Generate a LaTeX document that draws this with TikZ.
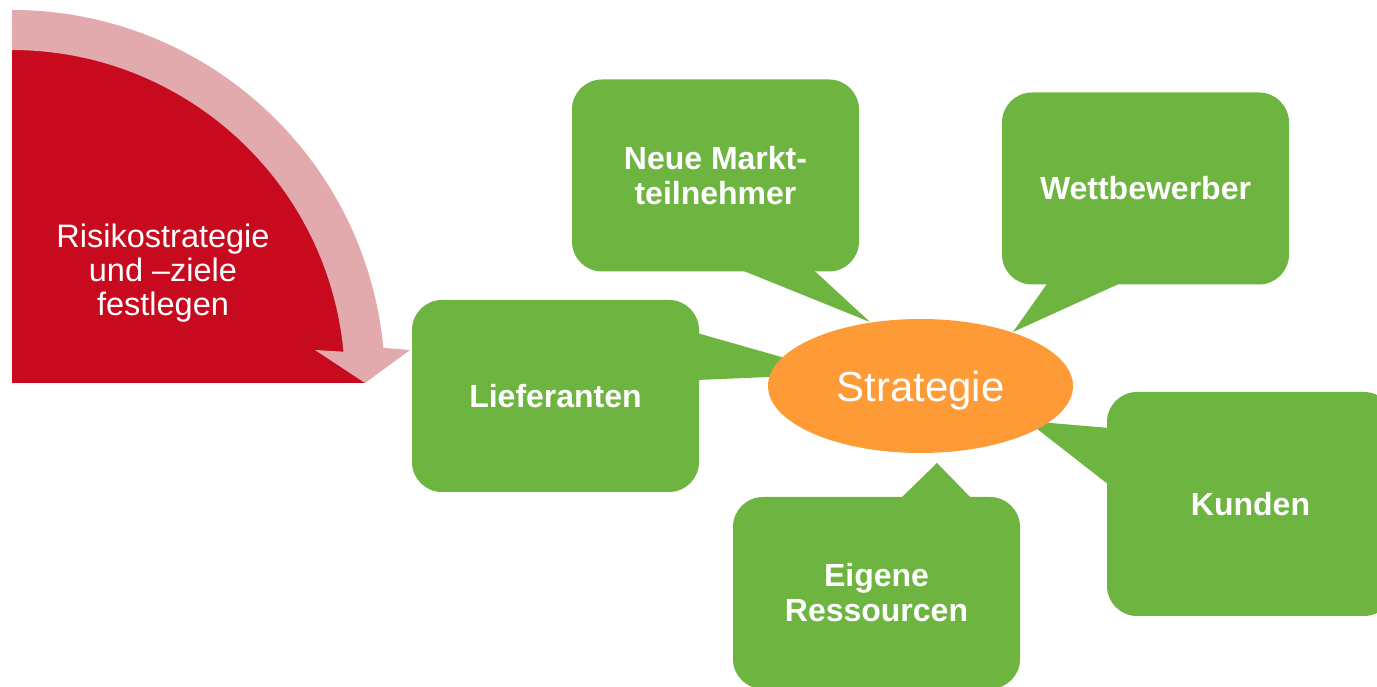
\documentclass[tikz,border=0pt]{standalone}
\usepackage{fontspec}
\setmainfont{Liberation Sans}
\usetikzlibrary{shapes.geometric}
\definecolor{riskred}{RGB}{200,10,30}
\definecolor{riskpink}{RGB}{227,170,174}
\definecolor{boxgreen}{RGB}{110,180,64}
\definecolor{stratorange}{RGB}{254,155,55}

\begin{document}
\begin{tikzpicture}[x=1pt,y=1pt,line join=round,
  box/.style={fill=boxgreen,rounded corners=30pt,minimum width=287pt,minimum height=192pt,
    inner sep=0pt,outer sep=0pt,text=white,align=center,font=\bfseries\fontsize{32}{35}\selectfont}]
\clip (0,0) rectangle (1377,687);
\fill[white] (0,0) rectangle (1377,687);

% Viertelkreis mit Pfeil
\coordinate (O) at (12,304);
\fill[riskred] (O) -- ++(90:353) arc[start angle=90,end angle=0,radius=353] -- cycle;
\fill[riskpink] (O) ++(90:373) arc[start angle=90,end angle=5.4,radius=373]
  -- (410,337) -- (365,304) -- (315,337) -- (343.5,335.3)
  arc[start angle=5.4,end angle=90,radius=333] -- cycle;
\node[text=white,align=center,font=\fontsize{32.5}{34}\selectfont] (risk) at (163,414)
  {Risikostrategie\\und –ziele\\festlegen};

% Sprechblasen
\node[box] (neue) at (715.5,511.5) {Neue Markt-\\teilnehmer};
\node[box] (wett) at (1145.5,498.5) {Wettbewerber};
\node[box] (lief) at (555.5,291) {Lieferanten};
\node[box,minimum height=224pt] (kund) at (1250.5,183) {Kunden};
\node[box] (eig) at (876.5,94) {Eigene\\Ressourcen};

\coordinate (tN) at (870,365);
\coordinate (tW) at (1013,355);
\coordinate (tL) at (841,313);
\coordinate (tK) at (1027,266);
\coordinate (tE) at (937,224);

\fill[boxgreen] ([xshift=24.5pt,yshift=2pt]neue.south) -- (tN) -- ([xshift=97.5pt,yshift=2pt]neue.south) -- cycle;
\fill[boxgreen] ([xshift=-97.5pt,yshift=2pt]wett.south) -- (tW) -- ([xshift=-23.5pt,yshift=2pt]wett.south) -- cycle;
\fill[boxgreen] ([xshift=-2pt,yshift=63pt]lief.east) -- (tL) -- ([xshift=-2pt,yshift=16pt]lief.east) -- cycle;
\fill[boxgreen] ([xshift=2pt,yshift=76pt]kund.west) -- (tK) -- ([xshift=2pt,yshift=19pt]kund.west) -- cycle;
\fill[boxgreen] ([xshift=23.5pt,yshift=-2pt]eig.north) -- (tE) -- ([xshift=95.5pt,yshift=-2pt]eig.north) -- cycle;

\node[ellipse,fill=stratorange,minimum width=305pt,minimum height=134pt,inner sep=0pt,
  text depth=0pt,text=white,font=\fontsize{42}{42}\selectfont] (strat) at (920.5,301) {Strategie};
\end{tikzpicture}
\end{document}
